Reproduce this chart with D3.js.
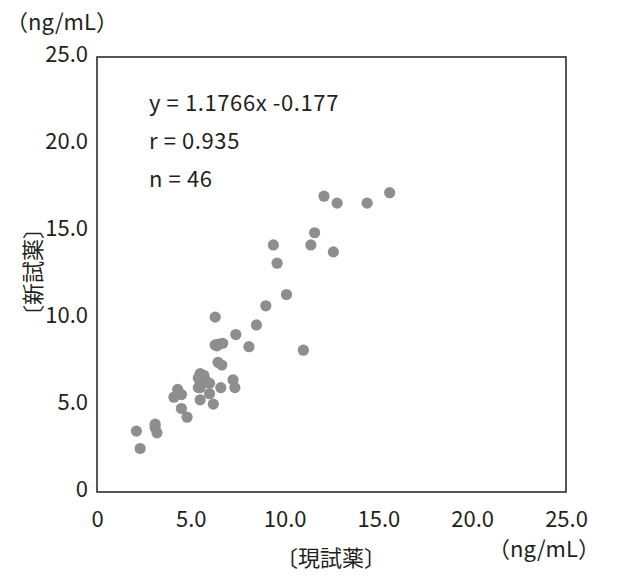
<!DOCTYPE html>
<html><head><meta charset="utf-8">
<script src="https://cdn.jsdelivr.net/npm/d3@7"></script>
<style>
body{margin:0;background:#fff;}
text{font-family:"Noto Sans CJK JP","Noto Sans",sans-serif;fill:#231f20;}
</style></head>
<body><svg id="c" width="619" height="579"></svg>
<script>
const xVals = [2.1,2.3,3.1,3.1,3.2,4.1,4.3,4.5,4.5,4.8,5.5,5.5,5.7,5.4,5.5,5.4,6.0,6.0,6.2,6.6,7.25,7.35,6.45,6.65,6.3,6.5,6.7,6.3,7.4,8.1,8.5,9.0,10.1,11.0,9.4,9.6,11.4,11.6,12.6,12.1,12.8,14.4,15.6,5.8,6.4,5.5];
const yVals = [3.5,2.5,3.9,3.7,3.4,5.45,5.9,5.6,4.8,4.3,5.3,6.8,6.7,6.55,6.2,6.0,6.25,5.65,5.05,6.0,6.45,6.0,7.45,7.3,8.45,8.5,8.55,10.05,9.05,8.35,9.6,10.7,11.35,8.15,14.2,13.15,14.2,14.9,13.8,17.0,16.6,16.6,17.2,6.4,8.4,6.0];
const tickVals = [0,5,10,15,20,25];
const tickLabels = ["0","5.0","10.0","15.0","20.0","25.0"];
const statLines = ["y = 1.1766x -0.177","r = 0.935","n = 46"];

const svg = d3.select("#c");
const L=97,R=566,T=57,B=492;
const x = d3.scaleLinear().domain([0,25]).range([L,R]);
const y = d3.scaleLinear().domain([0,25]).range([B,T]);

const pts = xVals.map((v,i)=>[v,yVals[i]]);
svg.append("g").selectAll("circle").data(pts).join("circle")
  .attr("cx",d=>x(d[0])).attr("cy",d=>y(d[1])).attr("r",5.6)
  .attr("fill","#8e8e90");

svg.append("rect").attr("x",L).attr("y",T).attr("width",R-L).attr("height",B-T)
  .attr("fill","none").attr("stroke","#231f20").attr("stroke-width",1.5);

const fmt = v=>tickLabels[tickVals.indexOf(v)];
const xa = svg.append("g").attr("transform",`translate(0,${B})`)
  .call(d3.axisBottom(x).tickValues(tickVals).tickFormat(fmt).tickSize(0).tickPadding(19));
xa.select(".domain").remove();
xa.selectAll("text").attr("font-size",22).attr("font-family",null).attr("fill",null);
const ya = svg.append("g").attr("transform",`translate(${L},0)`)
  .call(d3.axisLeft(y).tickValues(tickVals).tickFormat(fmt).tickSize(0).tickPadding(9));
ya.select(".domain").remove();
ya.selectAll("text").attr("font-size",22).attr("font-family",null).attr("fill",null).attr("dy","0.2em");

svg.append("text").attr("x",6).attr("y",30).attr("font-size",22).text("（ng/mL）");
svg.append("text").attr("x",488).attr("y",557).attr("font-size",22).text("（ng/mL）");
svg.append("text").attr("x",331).attr("y",566).attr("text-anchor","middle").attr("font-size",22).text("〔現試薬〕");
svg.append("text").attr("transform","translate(41,272) rotate(-90)").attr("text-anchor","middle").attr("font-size",22).text("〔新試薬〕");

svg.append("g").selectAll("text").data(statLines).join("text")
  .attr("x",149).attr("y",(d,i)=>111+i*38).attr("font-size",22).attr("letter-spacing",0.6).text(d=>d);
</script></body></html>
